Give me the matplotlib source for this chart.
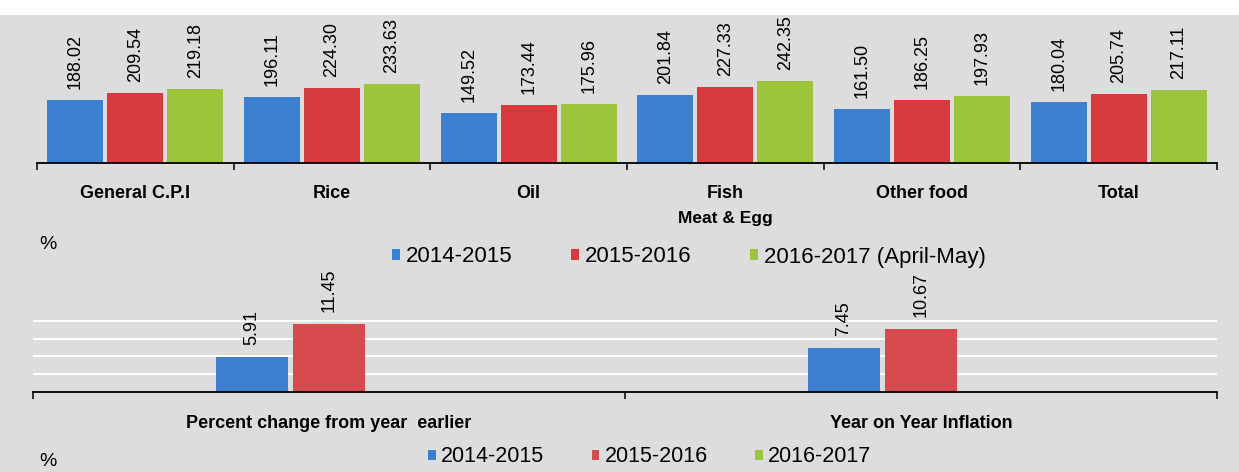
import numpy as np
import matplotlib.pyplot as plt
from matplotlib.patches import Rectangle

plt.rcParams['font.family'] = ['Liberation Sans', 'DejaVu Sans']

# consumer price index by group
categories = ['General C.P.I', 'Rice', 'Oil', 'Fish', 'Other food', 'Total']
sub_labels = ['', '', '', 'Meat & Egg', '', '']
cpi_1415 = [188.02, 196.11, 149.52, 201.84, 161.50, 180.04]
cpi_1516 = [209.54, 224.30, 173.44, 227.33, 186.25, 205.74]
cpi_1617 = [219.18, 233.63, 175.96, 242.35, 197.93, 217.11]
top_series = ['2014-2015', '2015-2016', '2016-2017 (April-May)']

# inflation, percent
change_labels = ['Percent change from year  earlier', 'Year on Year Inflation']
chg_1415 = [5.91, 7.45]
chg_1516 = [11.45, 10.67]
chg_1617 = [np.nan, np.nan]
bottom_series = ['2014-2015', '2015-2016', '2016-2017']

colors = ['#3b7fd0', '#d8393f', '#9cc43d']
colors_low = ['#3c7fcf', '#d64a4e', '#9cc43d']

W, H = 1239, 472
fig = plt.figure(figsize=(W / 100, H / 100), dpi=100, facecolor='#dddddd')
fig.patches.append(Rectangle((0, 1 - 15 / H), 1, 15 / H, transform=fig.transFigure,
                             facecolor='white', edgecolor='none', zorder=-1))


def style_axis(ax, n):
    ax.set_facecolor('none')
    for s in ['left', 'right', 'top']:
        ax.spines[s].set_visible(False)
    ax.spines['bottom'].set_color('black')
    ax.spines['bottom'].set_linewidth(1.3)
    ax.set_xlim(-0.5, n - 0.5)
    ax.set_xticks(np.arange(-0.5, n, 1))
    ax.set_xticklabels([])
    ax.tick_params(axis='x', length=5, width=1.1, direction='out', color='black')
    ax.tick_params(axis='y', length=0, labelleft=False)


# top panel
ax1 = fig.add_axes([37 / W, 1 - 163 / H, 1180 / W, 148 / H])
style_axis(ax1, len(categories))
ax1.set_ylim(0, 440)
ax1.set_yticks([])
x = np.arange(len(categories))
top_bars = []
for k, vals in enumerate([cpi_1415, cpi_1516, cpi_1617]):
    xs = x + (k - 1) * 0.305
    b = ax1.bar(xs, vals, width=0.285, color=colors[k], edgecolor='none')
    top_bars.append(b)
    for xi, v in zip(xs, vals):
        ax1.annotate(f'{v:.2f}', (xi, v), xytext=(0, 11), textcoords='offset pixels',
                     rotation=90, ha='center', va='bottom', fontsize=13,
                     annotation_clip=False)
for i, (name, sub) in enumerate(zip(categories, sub_labels)):
    ax1.annotate(name, (i, 0), xytext=(0, -30), textcoords='offset pixels',
                 ha='center', va='center', fontsize=13, fontweight='bold')
    if sub:
        ax1.annotate(sub, (i, 0), xytext=(0, -55), textcoords='offset pixels',
                     ha='center', va='center', fontsize=12.5, fontweight='bold')

fig.text(48 / W, 1 - 245 / H, '%', fontsize=14, ha='center', va='center')
fig.legend(handles=top_bars, labels=top_series, loc='center left',
           bbox_to_anchor=(392 / W, 1 - 257 / H), ncol=3, frameon=False,
           fontsize=16, handlelength=0.36, handleheight=0.36, handletextpad=0.25,
           columnspacing=2.65, borderpad=0, borderaxespad=0)

# bottom panel
ax2 = fig.add_axes([33 / W, 1 - 392 / H, 1184 / W, 102 / H])
style_axis(ax2, len(change_labels))
ax2.set_ylim(0, 17.2)
ax2.set_yticks([3, 6, 9, 12])
ax2.yaxis.grid(True, color='white', lw=1.4)
ax2.set_axisbelow(True)
x2 = np.arange(len(change_labels))
bottom_bars = []
for k, vals in enumerate([chg_1415, chg_1516, chg_1617]):
    xs = x2 + (k - 1) * 0.13
    b = ax2.bar(xs, vals, width=0.123, color=colors_low[k], edgecolor='none', zorder=2)
    bottom_bars.append(b)
    for xi, v in zip(xs, vals):
        if np.isnan(v):
            continue
        ax2.annotate(f'{v:.2f}', (xi, v), xytext=(0, 12), textcoords='offset pixels',
                     rotation=90, ha='center', va='bottom', fontsize=13,
                     annotation_clip=False)
for i, name in enumerate(change_labels):
    ax2.annotate(name, (i, 0), xytext=(0, -31), textcoords='offset pixels',
                 ha='center', va='center', fontsize=13, fontweight='bold')

fig.text(48 / W, 1 - 461 / H, '%', fontsize=14, ha='center', va='center')
fig.legend(handles=bottom_bars, labels=bottom_series, loc='center left',
           bbox_to_anchor=(428 / W, 1 - 457 / H), ncol=3, frameon=False,
           fontsize=15.5, handlelength=0.36, handleheight=0.36, handletextpad=0.25,
           columnspacing=2.2, borderpad=0, borderaxespad=0)

fig.savefig('out.png', dpi=100, facecolor=fig.get_facecolor())
